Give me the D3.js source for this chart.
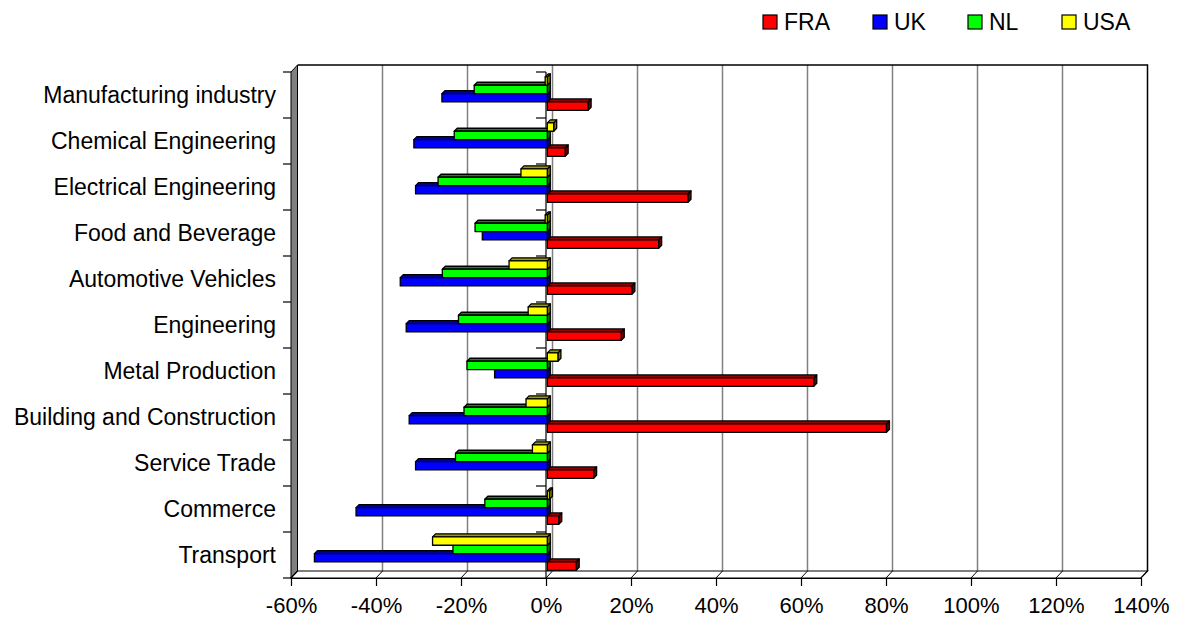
<!DOCTYPE html>
<html>
<head>
<meta charset="utf-8">
<script src="https://cdn.jsdelivr.net/npm/d3@7"></script>
<style>
  body { margin: 0; background: #fff; }
  text { font-family: "Liberation Sans", Arial, sans-serif; fill: #000; }
</style>
</head>
<body>
<svg id="chart" width="1179" height="618"></svg>
<script>
const categories = [
  "Manufacturing industry", "Chemical Engineering", "Electrical Engineering",
  "Food and Beverage", "Automotive Vehicles", "Engineering", "Metal Production",
  "Building and Construction", "Service Trade", "Commerce", "Transport"
];
const seriesNames = ["FRA", "UK", "NL", "USA"];
const fra = [9.6, 4.2, 33.1, 26.2, 19.9, 17.4, 62.7, 79.8, 10.9, 2.7, 6.8];
const uk  = [-24.8, -31.4, -31.0, -15.3, -34.6, -33.2, -12.4, -32.5, -31.0, -45.0, -54.8];
const nl  = [-17.2, -21.9, -25.7, -17.0, -24.7, -20.9, -18.9, -19.6, -21.6, -14.7, -22.2];
const usa = [-0.5, 1.5, -6.2, -0.5, -9.0, -4.5, 2.5, -5.0, -3.5, 0.5, -27.0];
const xTicks = [-60, -40, -20, 0, 20, 40, 60, 80, 100, 120, 140];
const colors = { FRA: "#ff0000", UK: "#0000ff", NL: "#00ff00", USA: "#ffff00" };

const values = { FRA: fra, UK: uk, NL: nl, USA: usa };

const svg = d3.select("#chart");

// front plane of the 3d box and the depth offset to the back wall
const pL = 291, pR = 1141, pT = 72, pB = 578;
const dx = 6.5, dy = -7;

const x = d3.scaleLinear().domain([-60, 140]).range([pL, pR]);
const y = d3.scaleBand().domain(categories).range([pT, pB]);
// top to bottom inside a group: USA, NL, UK, FRA
const ySeries = d3.scaleBand()
  .domain(["USA", "NL", "UK", "FRA"])
  .range([0, y.bandwidth()])
  .paddingOuter(0.75);

// back wall
svg.append("rect")
  .attr("x", pL + dx).attr("y", pT + dy)
  .attr("width", pR - pL).attr("height", pB - pT)
  .attr("fill", "#fff");

svg.append("g")
  .selectAll("line")
  .data(xTicks.slice(1, -1))
  .join("line")
  .attr("x1", d => x(d) + dx).attr("x2", d => x(d) + dx)
  .attr("y1", pT + dy).attr("y2", pB + dy)
  .attr("stroke", "#808080").attr("stroke-width", 1.5);

svg.append("path")
  .attr("d", `M${pL + dx},${pT + dy}H${pR + dx}V${pB + dy}`)
  .attr("fill", "none").attr("stroke", "#000").attr("stroke-width", 1.5);

// left side wall
svg.append("path")
  .attr("d", `M${pL},${pT}L${pL + dx},${pT + dy}V${pB + dy}L${pL},${pB}Z`)
  .attr("fill", "#808080").attr("stroke", "#000").attr("stroke-width", 1);

// floor
svg.append("path")
  .attr("d", `M${pL},${pB}L${pL + dx},${pB + dy}H${pR + dx}L${pR},${pB}Z`)
  .attr("fill", "#fff").attr("stroke", "#000").attr("stroke-width", 1.2);

svg.append("g")
  .selectAll("line")
  .data(xTicks)
  .join("line")
  .attr("x1", d => x(d)).attr("y1", pB)
  .attr("x2", d => x(d) + dx).attr("y2", pB + dy)
  .attr("stroke", "#000").attr("stroke-width", 1);

// value axis (bottom)
const xAxis = svg.append("g")
  .attr("transform", `translate(0,${pB})`)
  .call(d3.axisBottom(x).tickValues(xTicks).tickSize(8).tickSizeOuter(0)
    .tickFormat(d => d + "%"));
xAxis.select(".domain").attr("stroke", "#000").attr("stroke-width", 1.2);
xAxis.selectAll(".tick line").attr("stroke", "#000").attr("stroke-width", 1.2);
xAxis.selectAll(".tick text")
  .attr("y", 35).attr("dy", null)
  .style("font-size", "22px")
  .style("font-family", "'Liberation Sans', Arial, sans-serif");

// category axis ticks on the left edge and at zero
const catBounds = d3.range(categories.length + 1).map(i => pT + i * y.step());
svg.append("g")
  .selectAll("line")
  .data(catBounds)
  .join("line")
  .attr("x1", pL - 8).attr("x2", pL)
  .attr("y1", d => d).attr("y2", d => d)
  .attr("stroke", "#000").attr("stroke-width", 1.2);

svg.append("g")
  .selectAll("line")
  .data(catBounds.slice(0, -1))
  .join("line")
  .attr("x1", x(0) - 10).attr("x2", x(0))
  .attr("y1", d => d).attr("y2", d => d)
  .attr("stroke", "#000").attr("stroke-width", 1.2);

svg.append("line")
  .attr("x1", x(0)).attr("x2", x(0))
  .attr("y1", pT).attr("y2", pB)
  .attr("stroke", "#000").attr("stroke-width", 1.2);

svg.append("g")
  .selectAll("text")
  .data(categories)
  .join("text")
  .attr("x", 276)
  .attr("y", d => y(d) + y.bandwidth() / 2)
  .attr("dy", "0.35em")
  .attr("text-anchor", "end")
  .style("font-size", "23px")
  .text(d => d);

// bars, drawn bottom series first so upper bars cover hidden faces
const shiftX = dx * 0.2, shiftY = dy * 0.2;
const bdx = 3, bdy = -3;
const barsG = svg.append("g");

const shade = (c, k) => {
  const col = d3.rgb(c);
  return d3.rgb(col.r * k, col.g * k, col.b * k).formatHex();
};

categories.forEach((cat, i) => {
  seriesNames.forEach(s => {
    const v = values[s][i];
    const x0 = x(0) + shiftX, x1 = x(v) + shiftX;
    const l = Math.min(x0, x1), r = Math.max(x0, x1);
    const yt = y(cat) + ySeries(s) + shiftY;
    const h = ySeries.bandwidth();
    const g = barsG.append("g")
      .attr("stroke", "#000").attr("stroke-width", 1.3).attr("stroke-linejoin", "round");
    g.append("path")
      .attr("d", `M${r},${yt}L${r + bdx},${yt + bdy}V${yt + h + bdy}L${r},${yt + h}Z`)
      .attr("fill", shade(colors[s], 0.45));
    g.append("path")
      .attr("d", `M${l},${yt}L${l + bdx},${yt + bdy}H${r + bdx}L${r},${yt}Z`)
      .attr("fill", shade(colors[s], 0.6));
    g.append("rect")
      .attr("x", l).attr("y", yt)
      .attr("width", r - l).attr("height", h)
      .attr("fill", colors[s]);
  });
});

// legend
const legendX = [763, 873, 968, 1062];
const legend = svg.append("g")
  .selectAll("g")
  .data(seriesNames)
  .join("g")
  .attr("transform", (d, i) => `translate(${legendX[i]},15)`);
legend.append("rect")
  .attr("width", 14).attr("height", 14)
  .attr("fill", d => colors[d])
  .attr("stroke", "#000").attr("stroke-width", 1.2);
legend.append("text")
  .attr("x", 21).attr("y", 7).attr("dy", "0.35em")
  .style("font-size", "23px")
  .text(d => d);
</script>
</body>
</html>
